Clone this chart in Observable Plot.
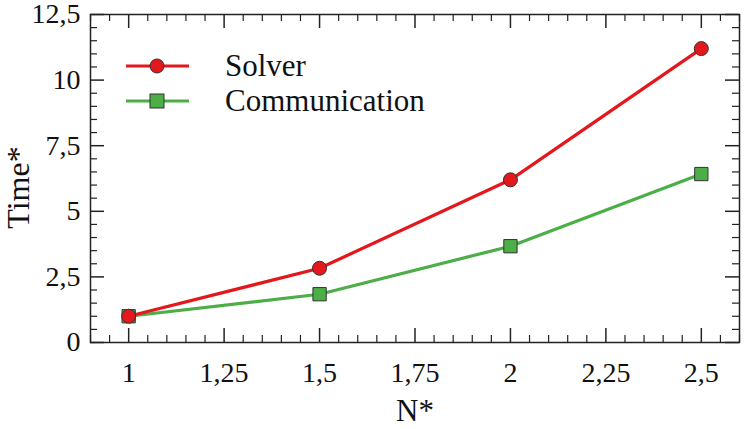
<!DOCTYPE html>
<html>
<head>
<meta charset="utf-8">
<script src="https://cdn.jsdelivr.net/npm/d3@7"></script>
<script src="https://cdn.jsdelivr.net/npm/@observablehq/plot@0.6"></script>
<style>
  html, body { margin: 0; padding: 0; background: #fff; }
  #wrap { position: relative; width: 750px; height: 429px; }
  #legend { position: absolute; left: 124px; top: 48px; font-family: "Liberation Serif", "Times New Roman", serif; font-size: 31px; color: #111; }
  .row { display: flex; align-items: center; height: 35.5px; }
  .row svg { margin-right: 35px; }
</style>
</head>
<body>
<div id="wrap"><div id="chart"></div><div id="legend"></div></div>
<script>
const nValues = [1, 1.5, 2, 2.5];
const solver = [1.0, 2.83, 6.2, 11.2];
const communication = [1.0, 1.84, 3.67, 6.42];
const seriesNames = ["Solver", "Communication"];
const seriesColors = ["#e3171c", "#4cae47"];
const xMajor = [1, 1.25, 1.5, 1.75, 2, 2.25, 2.5];
const yMajor = [0, 2.5, 5, 7.5, 10, 12.5];
const xTitle = "N*";
const yTitle = "Time*";

const xMinor = d3.range(0.9, 2.6001, 0.05).map(v => +v.toFixed(2)).filter(v => !xMajor.includes(v));
const yMinor = d3.range(0, 12.5001, 0.5).map(v => +v.toFixed(2)).filter(v => !yMajor.includes(v));

const rows = [];
nValues.forEach((n, i) => {
  rows.push({n, t: solver[i], s: seriesNames[0]});
  rows.push({n, t: communication[i], s: seriesNames[1]});
});
const solverRows = rows.filter(d => d.s === seriesNames[0]);
const commRows = rows.filter(d => d.s === seriesNames[1]);

const W = 750, H = 429;
const mL = 90, mR = 11, mT = 14, mB = 87;
const pw = W - mL - mR, ph = H - mT - mB;
const fmt = d => String(d).replace(".", ",");
const font = "'Liberation Serif', 'Times New Roman', serif";
const ax = "#222";

const chart = Plot.plot({
  width: W, height: H,
  marginLeft: mL, marginRight: mR, marginTop: mT, marginBottom: mB,
  style: {fontFamily: font, background: "#fff", color: ax, overflow: "visible"},
  x: {domain: [0.9, 2.6], axis: null},
  y: {domain: [0, 12.5], axis: null},
  marks: [
    Plot.frame({stroke: ax, strokeWidth: 1.5}),
    Plot.tickX(xMajor, {x: d => d, insetTop: ph - 14, stroke: ax, strokeWidth: 1.5}),
    Plot.tickX(xMinor, {x: d => d, insetTop: ph - 7, stroke: ax, strokeWidth: 1.2}),
    Plot.tickX(xMajor, {x: d => d, insetBottom: ph - 14, stroke: ax, strokeWidth: 1.5}),
    Plot.tickX(xMinor, {x: d => d, insetBottom: ph - 7, stroke: ax, strokeWidth: 1.2}),
    Plot.tickY(yMajor, {y: d => d, insetRight: pw - 14, stroke: ax, strokeWidth: 1.5}),
    Plot.tickY(yMinor, {y: d => d, insetRight: pw - 7, stroke: ax, strokeWidth: 1.2}),
    Plot.tickY(yMajor, {y: d => d, insetLeft: pw - 14, stroke: ax, strokeWidth: 1.5}),
    Plot.tickY(yMinor, {y: d => d, insetLeft: pw - 7, stroke: ax, strokeWidth: 1.2}),
    // tick labels
    Plot.text(xMajor, {x: d => d, text: fmt, frameAnchor: "bottom", dy: 31, fontSize: 28, fontFamily: font, fill: "#111", lineAnchor: "middle"}),
    Plot.text(yMajor, {y: d => d, text: fmt, frameAnchor: "left", dx: -10, textAnchor: "end", fontSize: 28, fontFamily: font, fill: "#111"}),
    // axis titles
    Plot.text([xTitle], {text: d => d, frameAnchor: "bottom", dy: 78, fontSize: 31, fontFamily: font, fill: "#111"}),
    Plot.text([yTitle], {text: d => d, frameAnchor: "left", textAnchor: "middle", lineAnchor: "middle", dx: -72, dy: 9, rotate: -90, fontSize: 32, fontFamily: font, fill: "#111"}),
    Plot.line(commRows, {x: "n", y: "t", stroke: seriesColors[1], strokeWidth: 3.2}),
    Plot.line(solverRows, {x: "n", y: "t", stroke: seriesColors[0], strokeWidth: 3.2}),
    Plot.dot(commRows, {x: "n", y: "t", symbol: "square", r: 7.5, fill: seriesColors[1], stroke: "#333", strokeWidth: 1}),
    Plot.dot(solverRows, {x: "n", y: "t", symbol: "circle", r: 7, fill: seriesColors[0], stroke: "#333", strokeWidth: 1})
  ]
});
document.getElementById("chart").appendChild(chart);

// legend
const legend = document.getElementById("legend");
seriesNames.forEach((name, i) => {
  const row = document.createElement("div");
  row.className = "row";
  const svg = d3.create("svg").attr("width", 66).attr("height", 20);
  svg.append("line").attr("x1", 2).attr("x2", 65).attr("y1", 10).attr("y2", 10)
    .attr("stroke", seriesColors[i]).attr("stroke-width", 3.2);
  if (i === 0) svg.append("circle").attr("cx", 33).attr("cy", 10).attr("r", 7)
    .attr("fill", seriesColors[i]).attr("stroke", "#333");
  else svg.append("rect").attr("x", 26).attr("y", 3).attr("width", 14).attr("height", 14)
    .attr("fill", seriesColors[i]).attr("stroke", "#333");
  row.appendChild(svg.node());
  const span = document.createElement("span");
  span.textContent = name;
  row.appendChild(span);
  legend.appendChild(row);
});
</script>
</body>
</html>
